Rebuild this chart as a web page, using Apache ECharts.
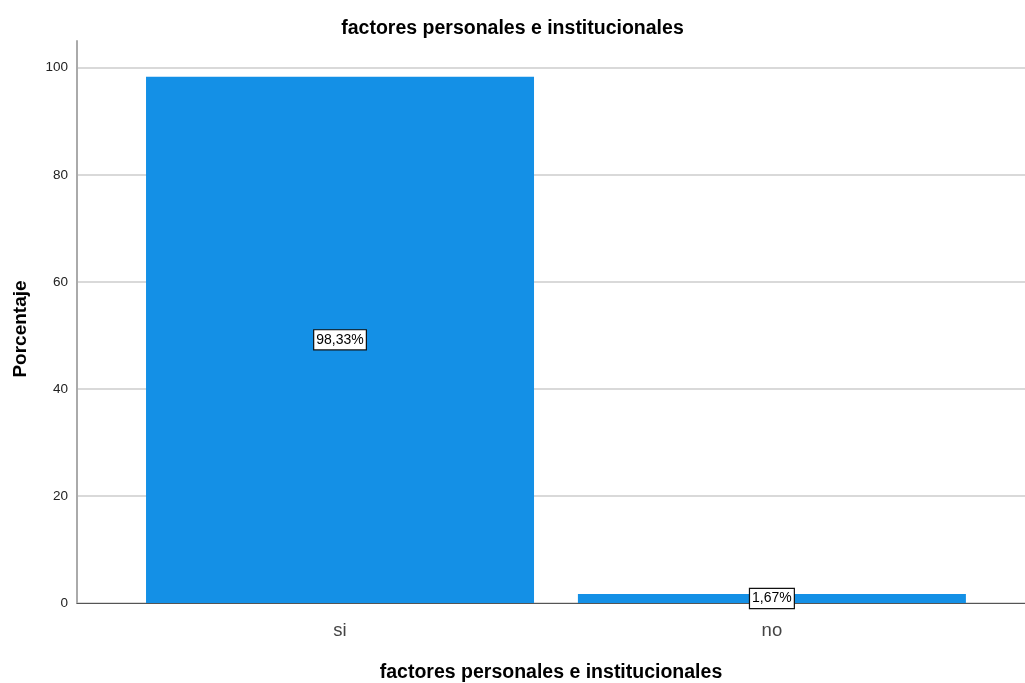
<!DOCTYPE html>
<html>
<head>
<meta charset="utf-8">
<script src="https://cdn.jsdelivr.net/npm/echarts@6/dist/echarts.min.js"></script>
<style>html,body{margin:0;padding:0;background:#fff;overflow:hidden}#c{width:1025px;height:683px}</style>
</head>
<body>
<div id="c"></div>
<script>
const categories = ['si', 'no'];
const values = [98.33, 1.67];
const yTicks = [0, 20, 40, 60, 80, 100];
const titleText = 'factores personales e institucionales';
const xName = 'factores personales e institucionales';
const yName = 'Porcentaje';

const chart = echarts.init(document.getElementById('c'), null, {renderer: 'canvas'});
const font = '"Liberation Sans", Arial, sans-serif';
chart.setOption({
  animation: false,
  title: {
    text: titleText, left: 'center', top: 14,
    textStyle: {fontFamily: font, fontSize: 19.5, fontWeight: 'bold', color: '#000'}
  },
  grid: {left: 77, right: 0, top: 41, bottom: 80, containLabel: false, outerBoundsMode: 'none'},
  xAxis: {
    type: 'value', min: -0.609, max: 1.586,
    name: xName, nameLocation: 'middle', nameGap: 60,
    nameTextStyle: {fontFamily: font, fontSize: 19.5, fontWeight: 'bold', color: '#000'},
    axisLine: {show: true, onZero: false, lineStyle: {color: '#555', width: 1}},
    axisTick: {show: false},
    splitLine: {show: false},
    axisLabel: {
      customValues: categories.map((c, i) => i),
      formatter: v => categories[Math.round(v)],
      fontFamily: font, fontSize: 18.5, color: '#444', margin: 18
    }
  },
  yAxis: {
    type: 'value', min: 0, max: 105, interval: 20,
    name: yName, nameLocation: 'middle', nameGap: 47, nameRotate: 90,
    nameTextStyle: {fontFamily: font, fontSize: 19, fontWeight: 'bold', color: '#000', padding: [0, 14, 0, 0]},
    axisLine: {show: true, onZero: false, lineStyle: {color: '#aaa', width: 2}},
    axisTick: {show: false},
    axisLabel: {
      customValues: yTicks,
      fontFamily: font, fontSize: 13.5, color: '#222', margin: 9
    },
    splitLine: {show: true, showMaxLine: false, lineStyle: {color: '#ccc', width: 1.5}}
  },
  series: [{
    type: 'bar',
    data: values.map((v, i) => [i, v]),
    barWidth: 388,
    itemStyle: {color: '#1490E6'},
    label: {
      show: true, position: 'inside',
      formatter: p => p.value[1].toFixed(2).replace('.', ',') + '%',
      fontFamily: font, fontSize: 14, color: '#000',
      backgroundColor: '#fff', borderColor: '#111', borderWidth: 1.2,
      padding: [3, 2, 2, 2]
    }
  }]
});
</script>
</body>
</html>
